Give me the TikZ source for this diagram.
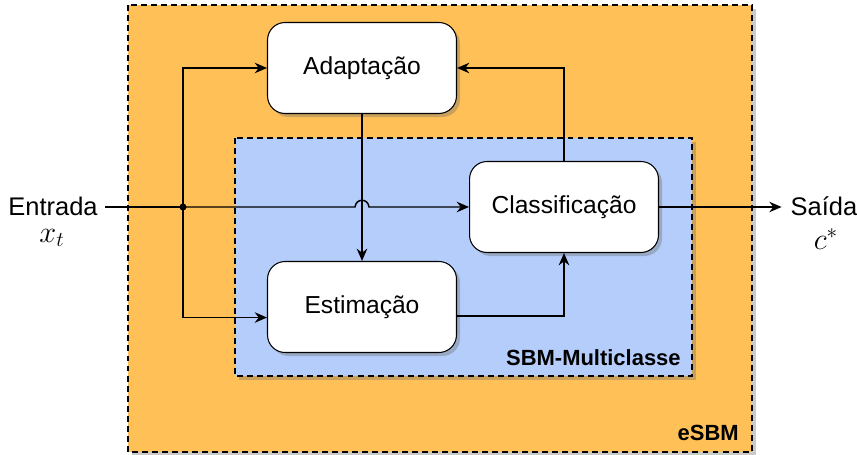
\documentclass[tikz,border=0pt]{standalone}
\usepackage{fontspec}
\setmainfont{Liberation Sans}
\usetikzlibrary{shadows,arrows.meta}

\definecolor{esbmcor}{RGB}{255,192,88}
\definecolor{sbmcor}{RGB}{180,205,250}

\tikzset{
  sombra/.style={drop shadow={shadow xshift=2pt,shadow yshift=-2pt,opacity=0.35,fill=black!60}},
  caixa/.style={draw,line width=0.8pt,dash pattern=on 3.4pt off 2.3pt,sombra},
  bloco/.style={draw,line width=0.6pt,fill=white,rounded corners=10pt,sombra,
    minimum width=3.78cm,minimum height=1.82cm,font=\fontsize{14}{16}\selectfont},
  seta/.style={-{Stealth[length=7pt,width=6pt]},line width=0.85pt},
  linha/.style={line width=0.85pt},
  rotulo/.style={font=\fontsize{14.5}{17}\selectfont,inner sep=0pt},
  mat/.style={font=\fontsize{17}{20}\selectfont,inner sep=0pt},
  titulo/.style={anchor=south east,inner sep=0pt,font=\bfseries\fontsize{12.5}{14}\selectfont}
}

\begin{document}
\begin{tikzpicture}[x=0.02cm,y=-0.02cm]
    \useasboundingbox (0,0) rectangle (857,455);

    % caixas externas
    \draw[caixa,fill=esbmcor] (128,5) rectangle (752,452);
    \draw[caixa,fill=sbmcor] (235,138) rectangle (692,376);
    \node[titulo] at (739,441) {eSBM};
    \node[titulo] at (681,366) {SBM-Multiclasse};

    % blocos
    \node[bloco] (adapt) at (362,68) {Adaptação};
    \node[bloco] (estim) at (362,307) {Estimação};
    \node[bloco] (class) at (564,207) {Classificação};

    % entrada e saida
    \node[rotulo] (entrada) at (53,206) {Entrada};
    \node[mat] (xt) at (52,238) {$x_t$};
    \node[rotulo] (saida) at (824,206) {Saída};
    \node[mat] (cs) at (826,239) {$c^*$};

    \coordinate (no) at (183,207);
    \coordinate (h1) at (355,207);
    \coordinate (h2) at (369,207);
    \fill (no) circle (3.5);

    % ligacoes
    \draw[linha] ([xshift=4]entrada.east |- no) -- (no);
    \draw[seta] (no) -- (h1) .. controls (356,198) and (368,198) .. (h2) -- (class.west);
    \draw[seta] (no) |- (adapt.west);
    \draw[seta] (no) |- ([yshift=-6]estim.west);
    \draw[seta] (adapt.south) -- (estim.north);
    \draw[seta] ([yshift=-5]estim.east) -| (class.south);
    \draw[seta] (class.north) |- (adapt.east);
    \draw[seta] (class.east) -- ([xshift=-5]saida.west |- class.east);
\end{tikzpicture}
\end{document}
